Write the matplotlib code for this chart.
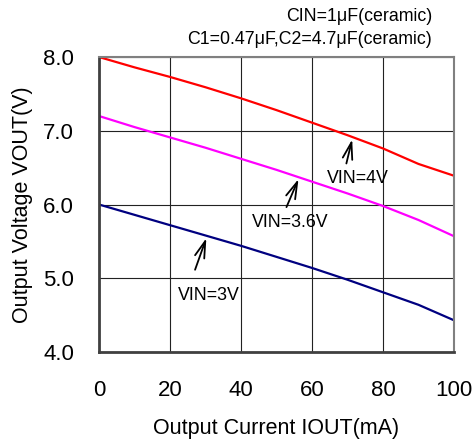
import matplotlib
matplotlib.use("Agg")
import matplotlib.pyplot as plt

plt.rcParams['font.family'] = ['Liberation Sans', 'DejaVu Sans']

# data
iout = [0, 10, 20, 30, 40, 50, 60, 70, 80, 90, 100]
vout_4v = [8.00, 7.86, 7.73, 7.59, 7.44, 7.28, 7.11, 6.94, 6.76, 6.55, 6.39]
vout_36v = [7.20, 7.05, 6.91, 6.77, 6.62, 6.47, 6.31, 6.15, 5.98, 5.79, 5.57]
vout_3v = [6.00, 5.86, 5.72, 5.58, 5.44, 5.29, 5.14, 4.98, 4.81, 4.64, 4.43]

xticks = [0, 20, 40, 60, 80, 100]
yticks = [4.0, 5.0, 6.0, 7.0, 8.0]

fig = plt.figure(figsize=(4.75, 4.41), dpi=100)
ax = fig.add_axes([0.2084, 0.2018, 0.7474, 0.6689])

ax.plot(iout, vout_4v, color='#ff0000', lw=1.6)
ax.plot(iout, vout_36v, color='#ff00ff', lw=1.6)
ax.plot(iout, vout_3v, color='#000080', lw=1.6)

ax.set_xlim(0, 100)
ax.set_ylim(4.0, 8.0)
ax.set_xticks(xticks)
ax.set_yticks(yticks)
ax.set_yticklabels(["%.1f" % v for v in yticks])
ax.tick_params(length=0, labelsize=16)
ax.tick_params(axis='y', pad=18)
ax.tick_params(axis='x', pad=20.5)
ax.grid(True, color='#222222', lw=0.8)

for s in ['top', 'right']:
    ax.spines[s].set_color('#808080')
    ax.spines[s].set_linewidth(1.5)
for s in ['left', 'bottom']:
    ax.spines[s].set_color('#404040')
    ax.spines[s].set_linewidth(2)

ax.set_xlabel("Output Current IOUT(mA)", fontsize=15.5, labelpad=12)
ax.set_ylabel("Output Voltage VOUT(V)", fontsize=15.5, labelpad=7)

fig.text(0.91, 0.962, "CIN=1μF(ceramic)", ha='right', va='center', fontsize=12.8)
fig.text(0.91, 0.91, "C1=0.47μF,C2=4.7μF(ceramic)", ha='right', va='center', fontsize=12.8)

arrow = dict(arrowstyle='->,head_length=1.2,head_width=0.35', color='black', lw=1.3)
ax.annotate("", xy=(71.5, 6.92), xytext=(69.5, 6.52), arrowprops=arrow)
ax.text(73, 6.35, "VIN=4V", fontsize=12.8, ha='center', va='center')
ax.annotate("", xy=(56.5, 6.38), xytext=(52.5, 5.93), arrowprops=arrow)
ax.text(54, 5.76, "VIN=3.6V", fontsize=12.8, ha='center', va='center')
ax.annotate("", xy=(30.5, 5.58), xytext=(26.8, 5.08), arrowprops=arrow)
ax.text(31, 4.77, "VIN=3V", fontsize=12.8, ha='center', va='center')

fig.savefig("out.png", dpi=100)
